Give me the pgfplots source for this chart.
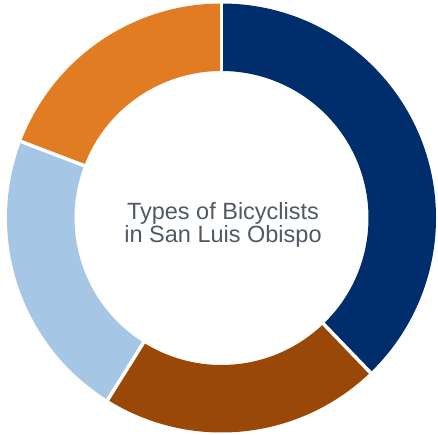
\documentclass[border=0pt]{standalone}
\usepackage{pgfplots}
\usepackage{pgfplotstable}
\pgfplotsset{compat=1.18}
\usepackage{fontspec}
\setmainfont{Liberation Sans}

\definecolor{navy}{RGB}{0,46,108}
\definecolor{rust}{RGB}{154,72,8}
\definecolor{skyblue}{RGB}{166,198,230}
\definecolor{amber}{RGB}{225,124,34}
\definecolor{txt}{RGB}{80,90,100}

% share of each type, percent (clockwise from 12 o'clock)
\pgfplotstableread{
type value
1 37.8
2 21.1
3 21.9
4 19.2
}\shares

\begin{document}
\begin{tikzpicture}
% cumulative angles
\pgfplotstablegetelem{0}{value}\of\shares \let\vA\pgfplotsretval
\pgfplotstablegetelem{1}{value}\of\shares \let\vB\pgfplotsretval
\pgfplotstablegetelem{2}{value}\of\shares \let\vC\pgfplotsretval
\pgfplotstablegetelem{3}{value}\of\shares \let\vD\pgfplotsretval
\pgfmathsetmacro\aO{90}
\pgfmathsetmacro\aA{\aO-3.6*\vA}
\pgfmathsetmacro\aB{\aA-3.6*\vB}
\pgfmathsetmacro\aC{\aB-3.6*\vC}
\pgfmathsetmacro\aD{\aC-3.6*\vD}
\def\cx{221.5}\def\cy{216}\def\Ro{214.5}\def\Ri{147}
\begin{axis}[
    width=438pt, height=434pt,
    scale only axis,
    xmin=0, xmax=438,
    ymin=0, ymax=434,
    hide axis,
    clip=false,
]
\newcommand\seg[3]{%
  \fill[#1] (axis cs:{\cx+\Ro*cos(#2)},{\cy+\Ro*sin(#2)})
    arc[start angle=#2, end angle=#3, radius=\Ro]
    -- (axis cs:{\cx+\Ri*cos(#3)},{\cy+\Ri*sin(#3)})
    arc[start angle=#3, end angle=#2, radius=\Ri] -- cycle;}
\seg{navy}{\aO}{\aA}
\seg{rust}{\aA}{\aB}
\seg{skyblue}{\aB}{\aC}
\seg{amber}{\aC}{\aD}
\newcommand\gap[1]{%
  \draw[white, line width=3.5pt]
    (axis cs:{\cx+(\Ri-3)*cos(#1)},{\cy+(\Ri-3)*sin(#1)})
    -- (axis cs:{\cx+(\Ro+1)*cos(#1)},{\cy+(\Ro+1)*sin(#1)});}
\gap{\aO}\gap{\aA}\gap{\aB}\gap{\aC}
\node[txt, align=center, inner sep=0pt, anchor=center,
      font=\fontsize{23.5}{23}\selectfont]
  at (axis cs:223,209) {Types of Bicyclists\\in San Luis Obispo};
\end{axis}
\pgfresetboundingbox
\path[use as bounding box] (current axis.south west) rectangle (current axis.north east);
\end{tikzpicture}
\end{document}
